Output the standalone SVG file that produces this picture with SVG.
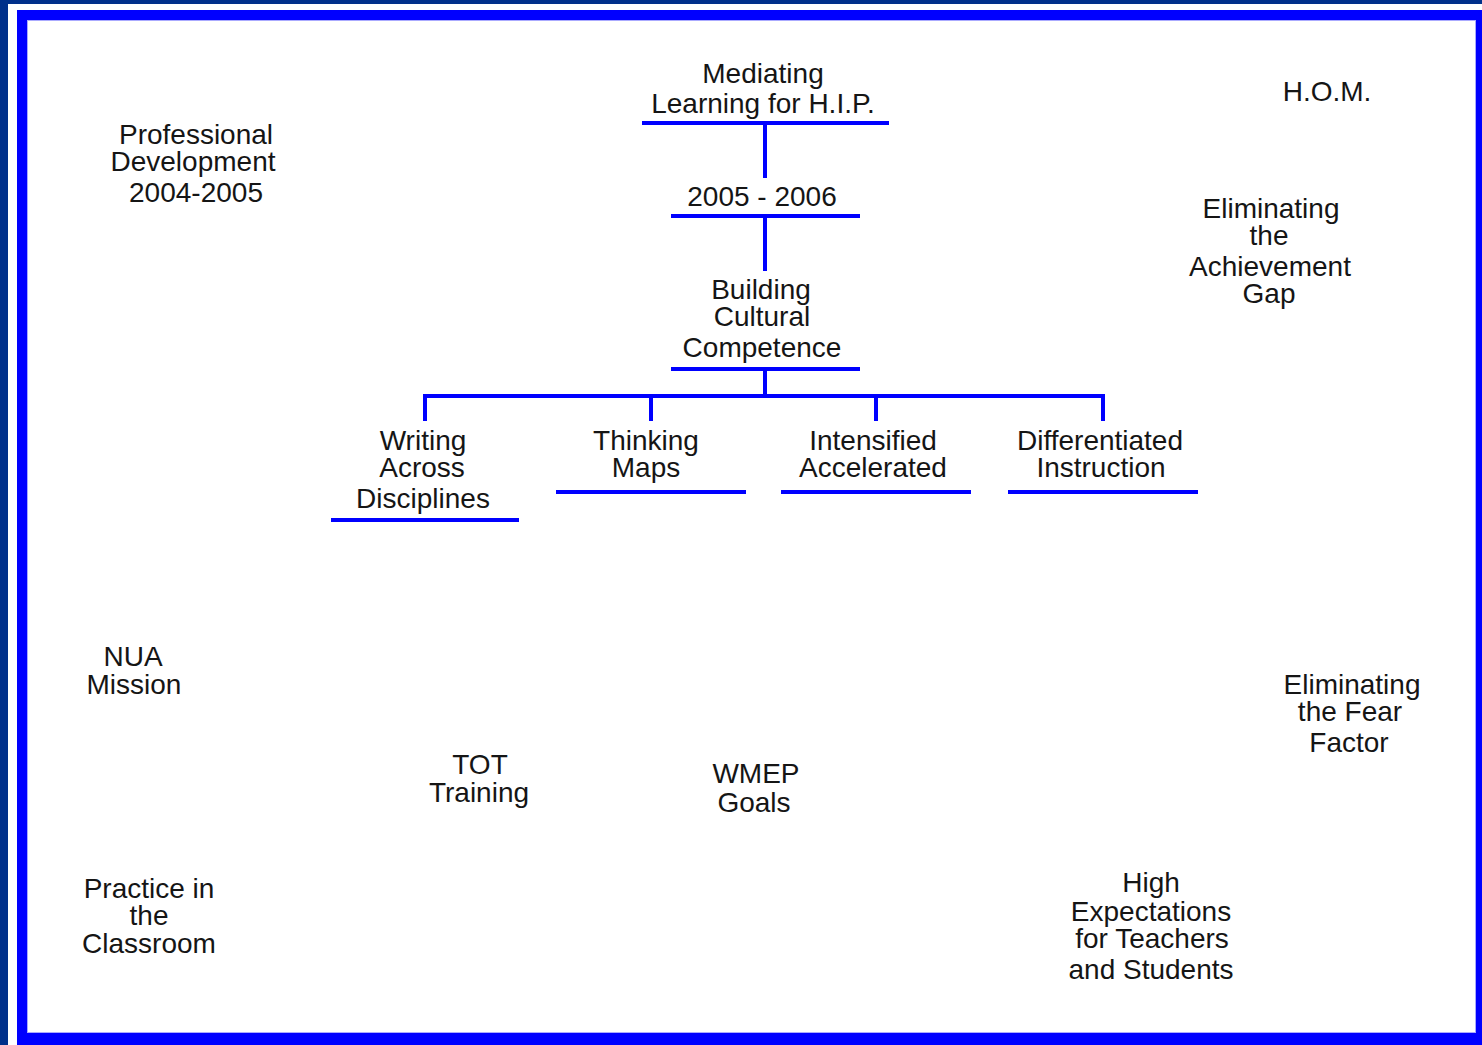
<svg xmlns="http://www.w3.org/2000/svg" width="1482" height="1045" viewBox="0 0 1482 1045">
<style>
text{font-family:"Liberation Sans",Arial,sans-serif;font-size:28px;fill:#151515;text-anchor:middle}
.ln{stroke:#0000ff;stroke-width:4;fill:none}
</style>
<rect x="0" y="0" width="1482" height="1045" fill="#00308a"/>
<rect x="8" y="4" width="1474" height="1041" fill="#ffffff"/>
<rect x="17" y="10" width="1465" height="1035" fill="#0000ff"/>
<rect x="27.5" y="20.5" width="1448" height="1012" fill="#ffffff" stroke="#aaaaff" stroke-width="1"/>
<g id="connectors">
<line class="ln" x1="765" y1="123" x2="765" y2="178"/>
<line class="ln" x1="765" y1="216" x2="765" y2="271"/>
<line class="ln" x1="765" y1="369" x2="765" y2="396"/>
<path class="ln" d="M425 421 V396 H1103 V421"/>
<line class="ln" x1="651" y1="396" x2="651" y2="421"/>
<line class="ln" x1="876" y1="396" x2="876" y2="421"/>
</g>
<g id="mediating"><text x="763" y="83">Mediating</text><text x="763" y="113">Learning for H.I.P.</text><line class="ln" x1="642" y1="123" x2="889" y2="123"/></g>
<g id="y2005"><text x="762" y="206">2005 - 2006</text><line class="ln" x1="671" y1="216" x2="860" y2="216"/></g>
<g id="building"><text x="761" y="299">Building</text><text x="762" y="326">Cultural</text><text x="762" y="357">Competence</text><line class="ln" x1="671" y1="369" x2="860" y2="369"/></g>
<g id="writing"><text x="423" y="450">Writing</text><text x="422" y="477">Across</text><text x="423" y="508">Disciplines</text><line class="ln" x1="331" y1="520" x2="519" y2="520"/></g>
<g id="thinking"><text x="646" y="450">Thinking</text><text x="646" y="477">Maps</text><line class="ln" x1="556" y1="492" x2="746" y2="492"/></g>
<g id="intensified"><text x="873" y="450">Intensified</text><text x="873" y="477">Accelerated</text><line class="ln" x1="781" y1="492" x2="971" y2="492"/></g>
<g id="differentiated"><text x="1100" y="450">Differentiated</text><text x="1101" y="477">Instruction</text><line class="ln" x1="1008" y1="492" x2="1198" y2="492"/></g>
<g id="profdev"><text x="196" y="144">Professional</text><text x="193" y="171">Development</text><text x="196" y="202">2004-2005</text></g>
<g id="hom"><text x="1327" y="101">H.O.M.</text></g>
<g id="gap"><text x="1271" y="218">Eliminating</text><text x="1269" y="245">the</text><text x="1270" y="276">Achievement</text><text x="1269" y="303">Gap</text></g>
<g id="nua"><text x="133" y="666">NUA</text><text x="134" y="694">Mission</text></g>
<g id="tot"><text x="480" y="774">TOT</text><text x="479" y="802">Training</text></g>
<g id="wmep"><text x="756" y="783">WMEP</text><text x="754" y="812">Goals</text></g>
<g id="fear"><text x="1352" y="694">Eliminating</text><text x="1350" y="721">the Fear</text><text x="1349" y="752">Factor</text></g>
<g id="practice"><text x="149" y="898">Practice in</text><text x="149" y="925">the</text><text x="149" y="953">Classroom</text></g>
<g id="high"><text x="1151" y="892">High</text><text x="1151" y="921">Expectations</text><text x="1152" y="948">for Teachers</text><text x="1151" y="979">and Students</text></g>
</svg>
